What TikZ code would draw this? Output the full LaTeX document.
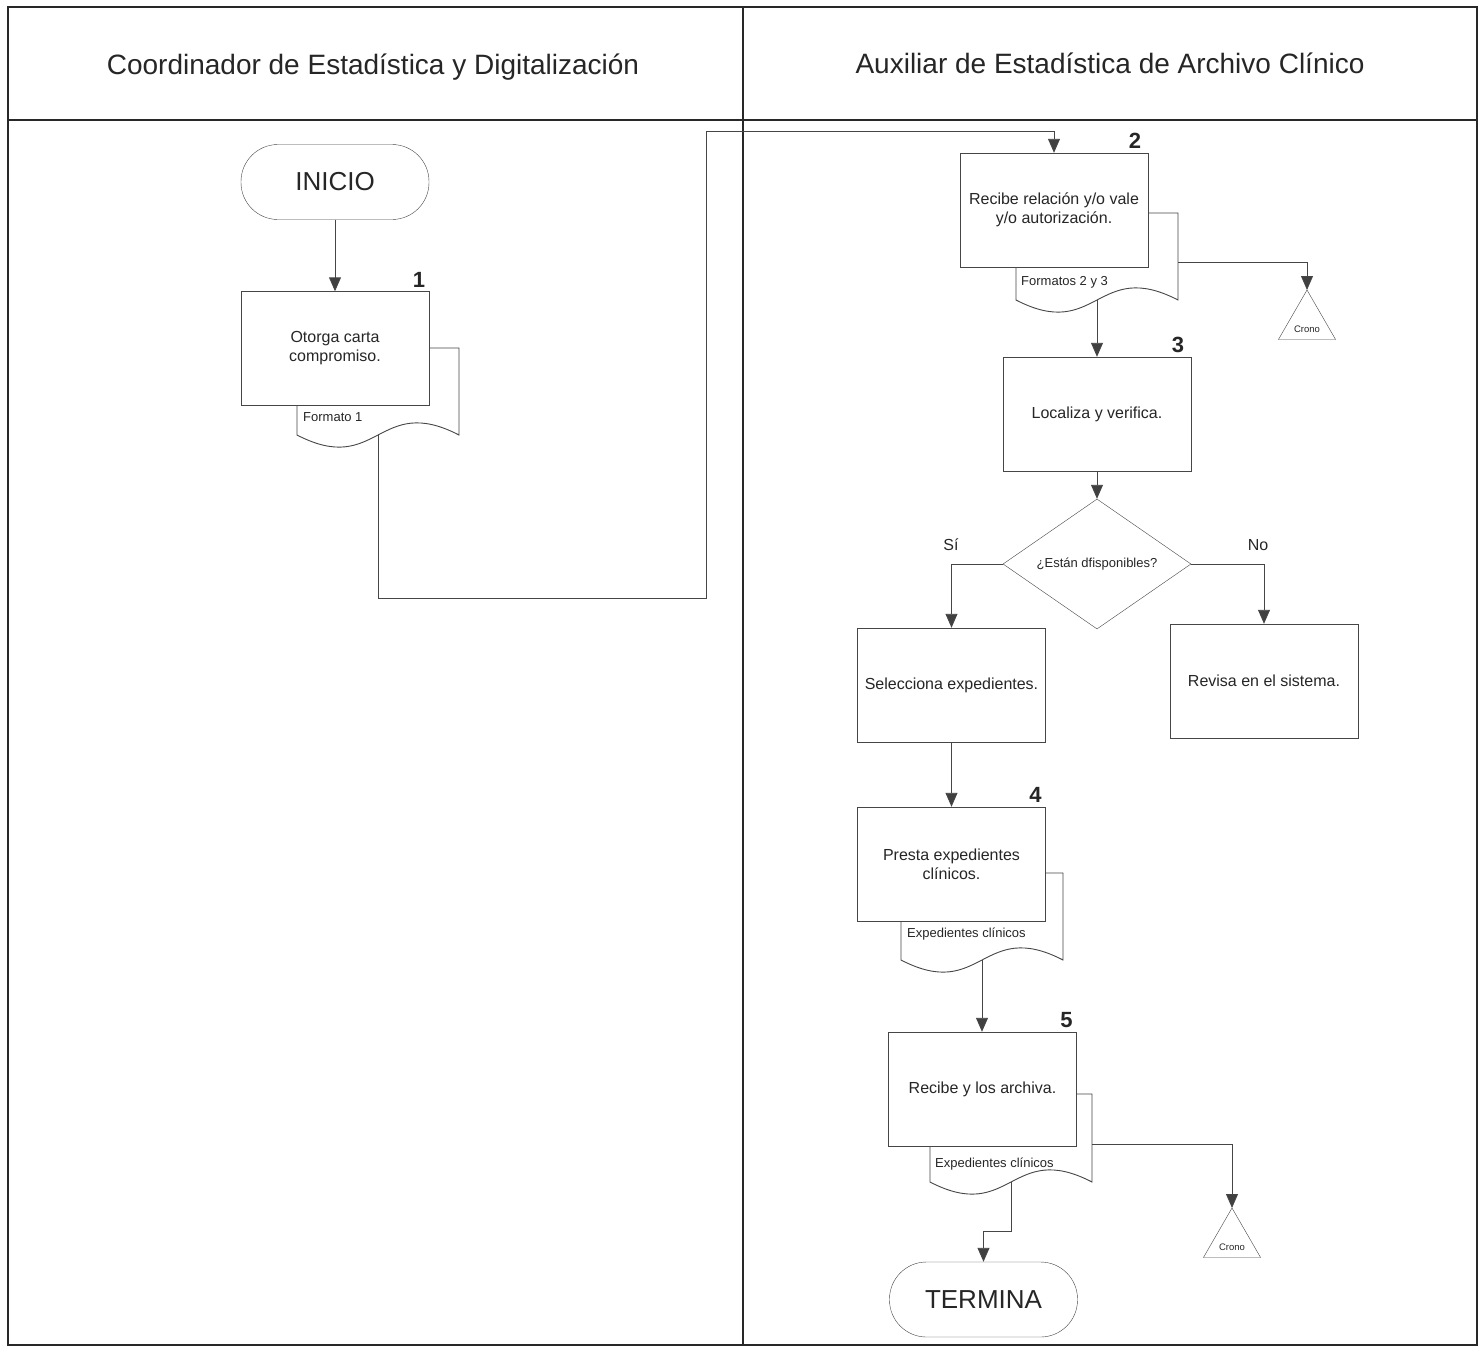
\documentclass[tikz,border=0pt]{standalone}
\usepackage{fontspec}
\setmainfont{Liberation Sans}
\usepackage{tikz}
\usetikzlibrary{arrows.meta,positioning,shapes.geometric}
\definecolor{linegray}{RGB}{70,70,70}
\definecolor{framegray}{RGB}{40,40,40}

\begin{document}
\begin{tikzpicture}[x=1pt,y=-1pt,
    proc/.style={draw=linegray, fill=white, minimum width=188pt, minimum height=114pt, align=center, inner sep=2pt, font=\fontsize{16}{19}\selectfont},
    term/.style={draw=linegray, fill=white, rounded corners=37pt, minimum width=188pt, minimum height=75pt, font=\fontsize{26}{30}\selectfont},
    decision/.style={draw=linegray, fill=white, diamond, aspect=1.45, minimum width=188pt, minimum height=130pt, inner sep=0pt, font=\fontsize{13}{15}\selectfont},
    docbox/.style={draw=linegray, fill=white, line width=0.9pt},
    crono/.style={draw=linegray, fill=white, regular polygon, regular polygon sides=3, minimum size=66pt, inner sep=0pt, outer sep=0pt},
    cronotext/.style={font=\fontsize{9.5}{11}\selectfont, inner sep=0pt},
    arr/.style={draw=linegray, line width=0.9pt, -{Triangle[length=14pt,width=12pt,fill=black!75]}},
    num/.style={font=\fontsize{22}{24}\selectfont\bfseries, anchor=south east, inner sep=0pt},
    doclabel/.style={font=\fontsize{13}{15}\selectfont, anchor=west, inner sep=0pt},
    lane/.style={font=\fontsize{28}{32}\selectfont},
    every node/.style={text=black!85}
]
\fill[white] (0,0) rectangle (1481,1349);
\useasboundingbox (0,0) rectangle (1481,1349);

% lanes
\draw[framegray, line width=1.5pt] (8,7) rectangle (1477,1345);
\draw[framegray, line width=2.5pt] (8,120) -- (1477,120);
\draw[framegray, line width=1.2pt] (743,7) -- (743,1345);
\node[lane] (lane1) at (373,67) {Coordinador de Estadística y Digitalización};
\node[lane] (lane2) at (1110,63) {Auxiliar de Estadística de Archivo Clínico};

% documents behind the steps
\draw[docbox] (297,348) -- (459,348) -- (459,435) .. controls (378,393) and (378,477) .. (297,435) -- cycle;
\coordinate (d1) at (378,435);
\draw[docbox] (1016,213) -- (1178,213) -- (1178,300) .. controls (1097,258) and (1097,342) .. (1016,300) -- cycle;
\coordinate (d2) at (1097,300);
\coordinate (d2r) at (1178,262);
\draw[docbox] (901,873) -- (1063,873) -- (1063,960) .. controls (982,918) and (982,1002) .. (901,960) -- cycle;
\coordinate (d4) at (982,960);
\draw[docbox] (930,1094) -- (1092,1094) -- (1092,1182) .. controls (1011,1140) and (1011,1224) .. (930,1182) -- cycle;
\coordinate (d5) at (1011,1182);
\coordinate (d5r) at (1092,1144);

% steps
\node[term] (inicio) at (335,182) {INICIO};
\node[proc] (box1) at (335,348.5) {Otorga carta\\compromiso.};
\node[proc] (box2) at (1054,210) {Recibe relación y/o vale\\y/o autorización.};
\node[proc] (box3) at (1097,414) {Localiza y verifica.};
\node[decision] (dec) at (1097,564) {¿Están dfisponibles?};
\node[proc] (boxsel) at (951.5,685) {Selecciona expedientes.};
\node[proc] (boxrev) at (1264,681) {Revisa en el sistema.};
\node[proc] (box4) at (951.5,864) {Presta expedientes\\clínicos.};
\node[proc] (box5) at (982.5,1089) {Recibe y los archiva.};
\node[term] (termina) at (983.5,1299.5) {TERMINA};
\node[crono] (crono1) at (1307,323) {};
\node[cronotext] (c1txt) at (1307,329) {Crono};
\node[crono] (crono2) at (1232,1241) {};
\node[cronotext] (c2txt) at (1232,1247) {Crono};

\node[doclabel] (f1) at (303,417) {Formato 1};
\node[doclabel] (f2) at (1021,282) {Formatos 2 y 3};
\node[doclabel] (f4) at (907,934) {Expedientes clínicos};
\node[doclabel] (f5) at (935,1164) {Expedientes clínicos};

\node[num] (n1) at ([xshift=-4pt,yshift=4pt]box1.north east) {1};
\node[num] (n2) at ([xshift=-7pt,yshift=4pt]box2.north east) {2};
\node[num] (n3) at ([xshift=-7pt,yshift=4pt]box3.north east) {3};
\node[num] (n4) at ([xshift=-4pt,yshift=4pt]box4.north east) {4};
\node[num] (n5) at ([xshift=-4pt,yshift=4pt]box5.north east) {5};

\node[font=\fontsize{16}{18}\selectfont] (si) at (951,545) {Sí};
\node[font=\fontsize{16}{18}\selectfont] (no) at (1258,545) {No};

% flow
\draw[arr] (inicio) -- (box1);
\draw[arr] (d1) -- (378,598) -- (706,598) -- (706,131) -| (box2.north);
\draw[arr] (d2r) -| (crono1.corner 1);
\draw[arr] (d2) -- (box3.north);
\draw[arr] (box3) -- (dec);
\draw[arr] (dec.west) -| (boxsel.north);
\draw[arr] (dec.east) -| (boxrev.north);
\draw[arr] (boxsel) -- (box4);
\draw[arr] (d4) -- (d4 |- box5.north);
\draw[arr] (d5r) -| (crono2.corner 1);
\draw[arr] (d5) -- (1011,1231) -| (termina.north);
\end{tikzpicture}
\end{document}
